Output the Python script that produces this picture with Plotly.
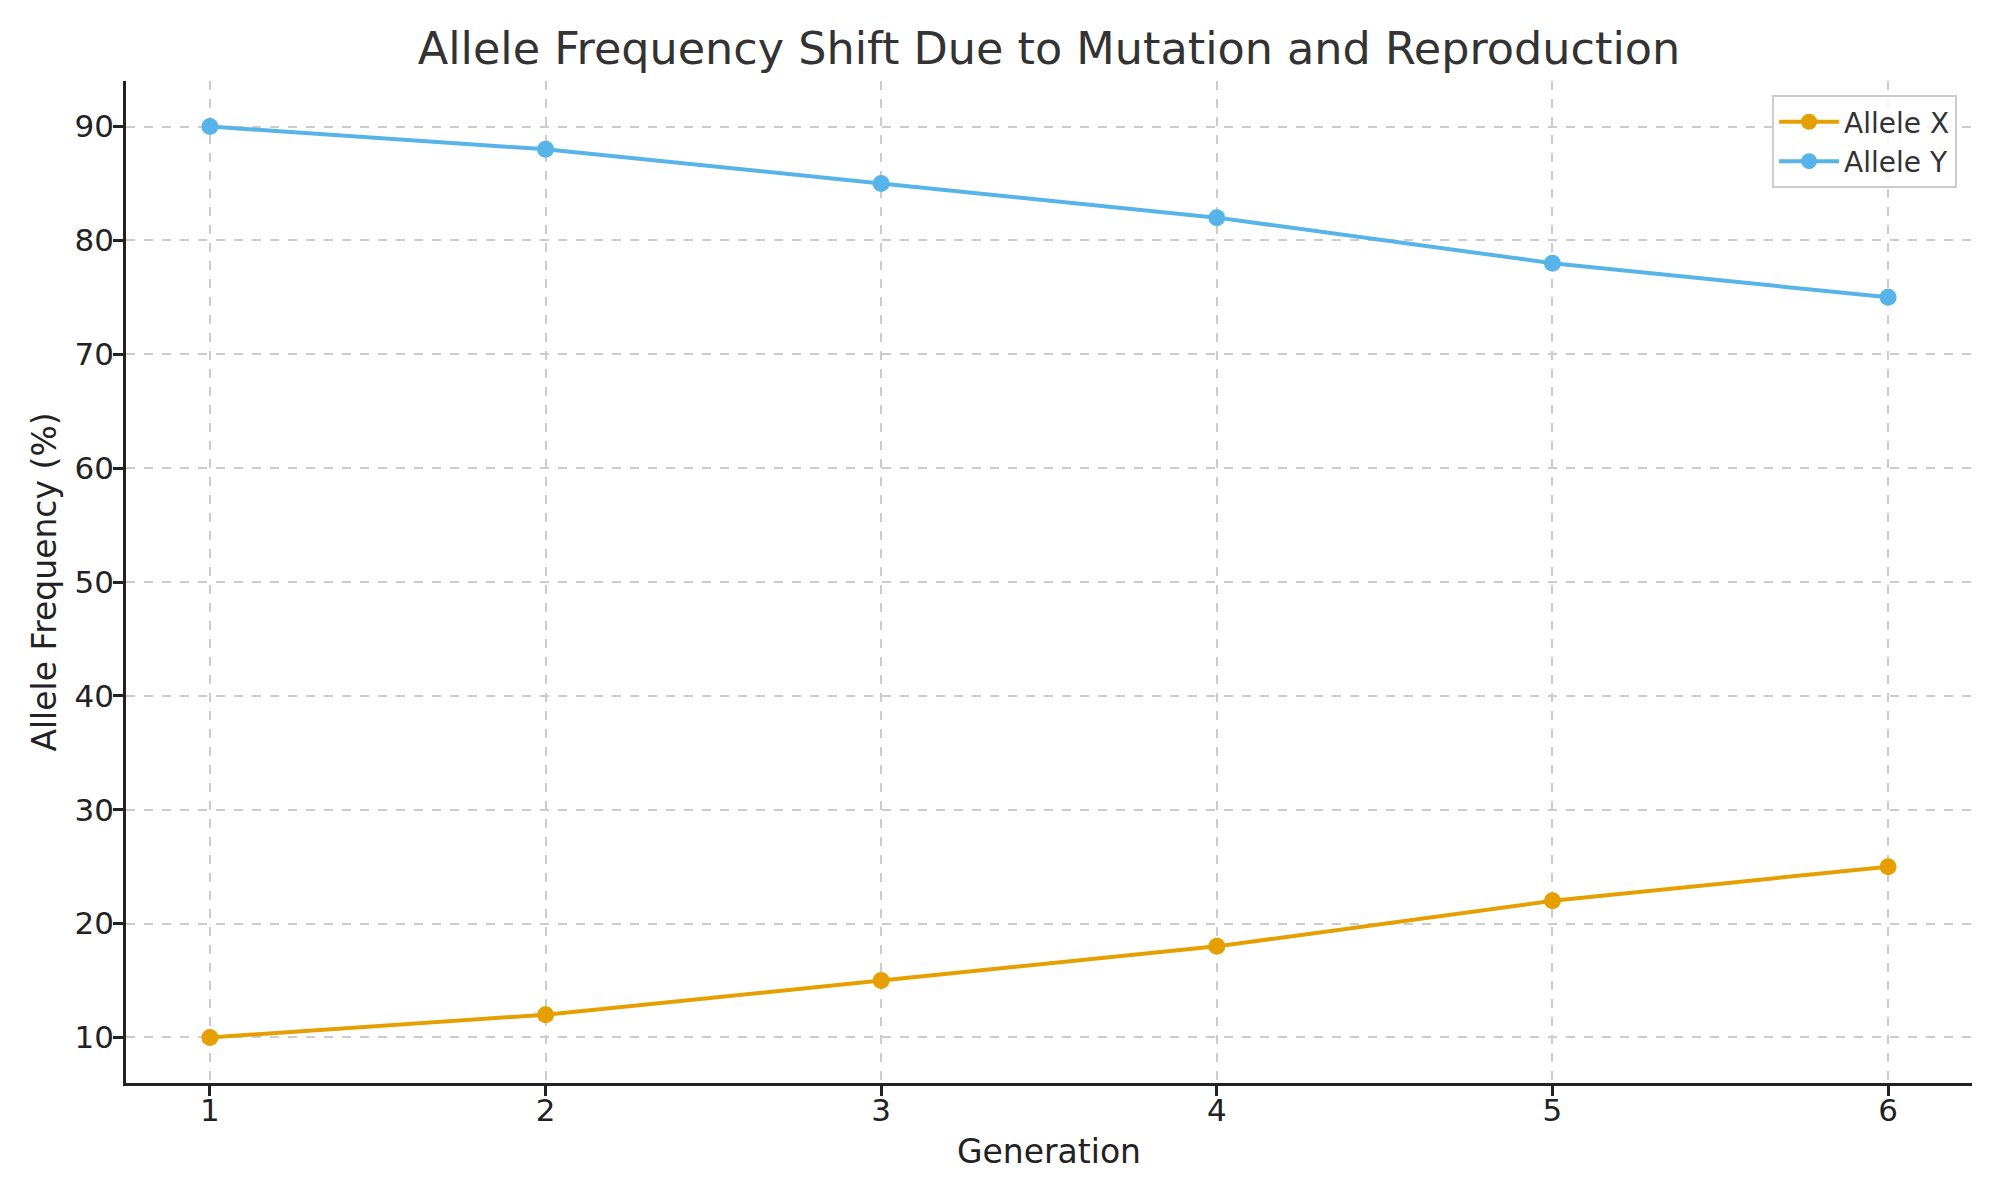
import plotly.graph_objects as go

generations = [1, 2, 3, 4, 5, 6]
allele_x = [10, 12, 15, 18, 22, 25]
allele_y = [90, 88, 85, 82, 78, 75]
x_ticks = [1, 2, 3, 4, 5, 6]
y_ticks = [10, 20, 30, 40, 50, 60, 70, 80, 90]

FONT = "DejaVu Sans"
fig = go.Figure()
fig.add_trace(go.Scatter(x=generations, y=allele_x, mode="lines+markers", name="Allele X",
                         line=dict(color="#E69F00", width=4), marker=dict(size=17, color="#E69F00")))
fig.add_trace(go.Scatter(x=generations, y=allele_y, mode="lines+markers", name="Allele Y",
                         line=dict(color="#56B4E9", width=4), marker=dict(size=17, color="#56B4E9")))

axis_common = dict(showline=True, linecolor="#222222", linewidth=2.5, mirror=False,
                   ticks="outside", ticklen=10, tickwidth=2.5, tickcolor="#222222",
                   showgrid=True, gridcolor="#cccccc", griddash="dash", gridwidth=1.5,
                   zeroline=False, tickfont=dict(family=FONT, size=31, color="#222222"))

fig.update_layout(
    width=2000, height=1200,
    margin=dict(l=126, r=28, t=81, b=117),
    paper_bgcolor="white", plot_bgcolor="white",
    title=dict(text="Allele Frequency Shift Due to Mutation and Reproduction",
               font=dict(family=FONT, size=44.5, color="#333333"),
               x=0.5245, xanchor="center", y=0.9596, yanchor="middle"),
    xaxis=dict(range=[0.75, 6.25], tickvals=x_ticks, ticklabelstandoff=-12,
               title=dict(text="Generation", font=dict(family=FONT, size=33, color="#222222"), standoff=13),
               **axis_common),
    yaxis=dict(range=[6, 94], tickvals=y_ticks, ticklabelstandoff=-7,
               title=dict(text="Allele Frequency (%)", font=dict(family=FONT, size=33, color="#222222"), standoff=9),
               **axis_common),
    legend=dict(x=0.9919, y=0.986, xanchor="right", yanchor="top",
                bgcolor="rgba(255,255,255,0.8)", bordercolor="#cccccc", borderwidth=2,
                font=dict(family=FONT, size=28, color="#333333"), itemwidth=60,
                tracegroupgap=4),
    showlegend=True,
)

fig.write_html("out.html")
